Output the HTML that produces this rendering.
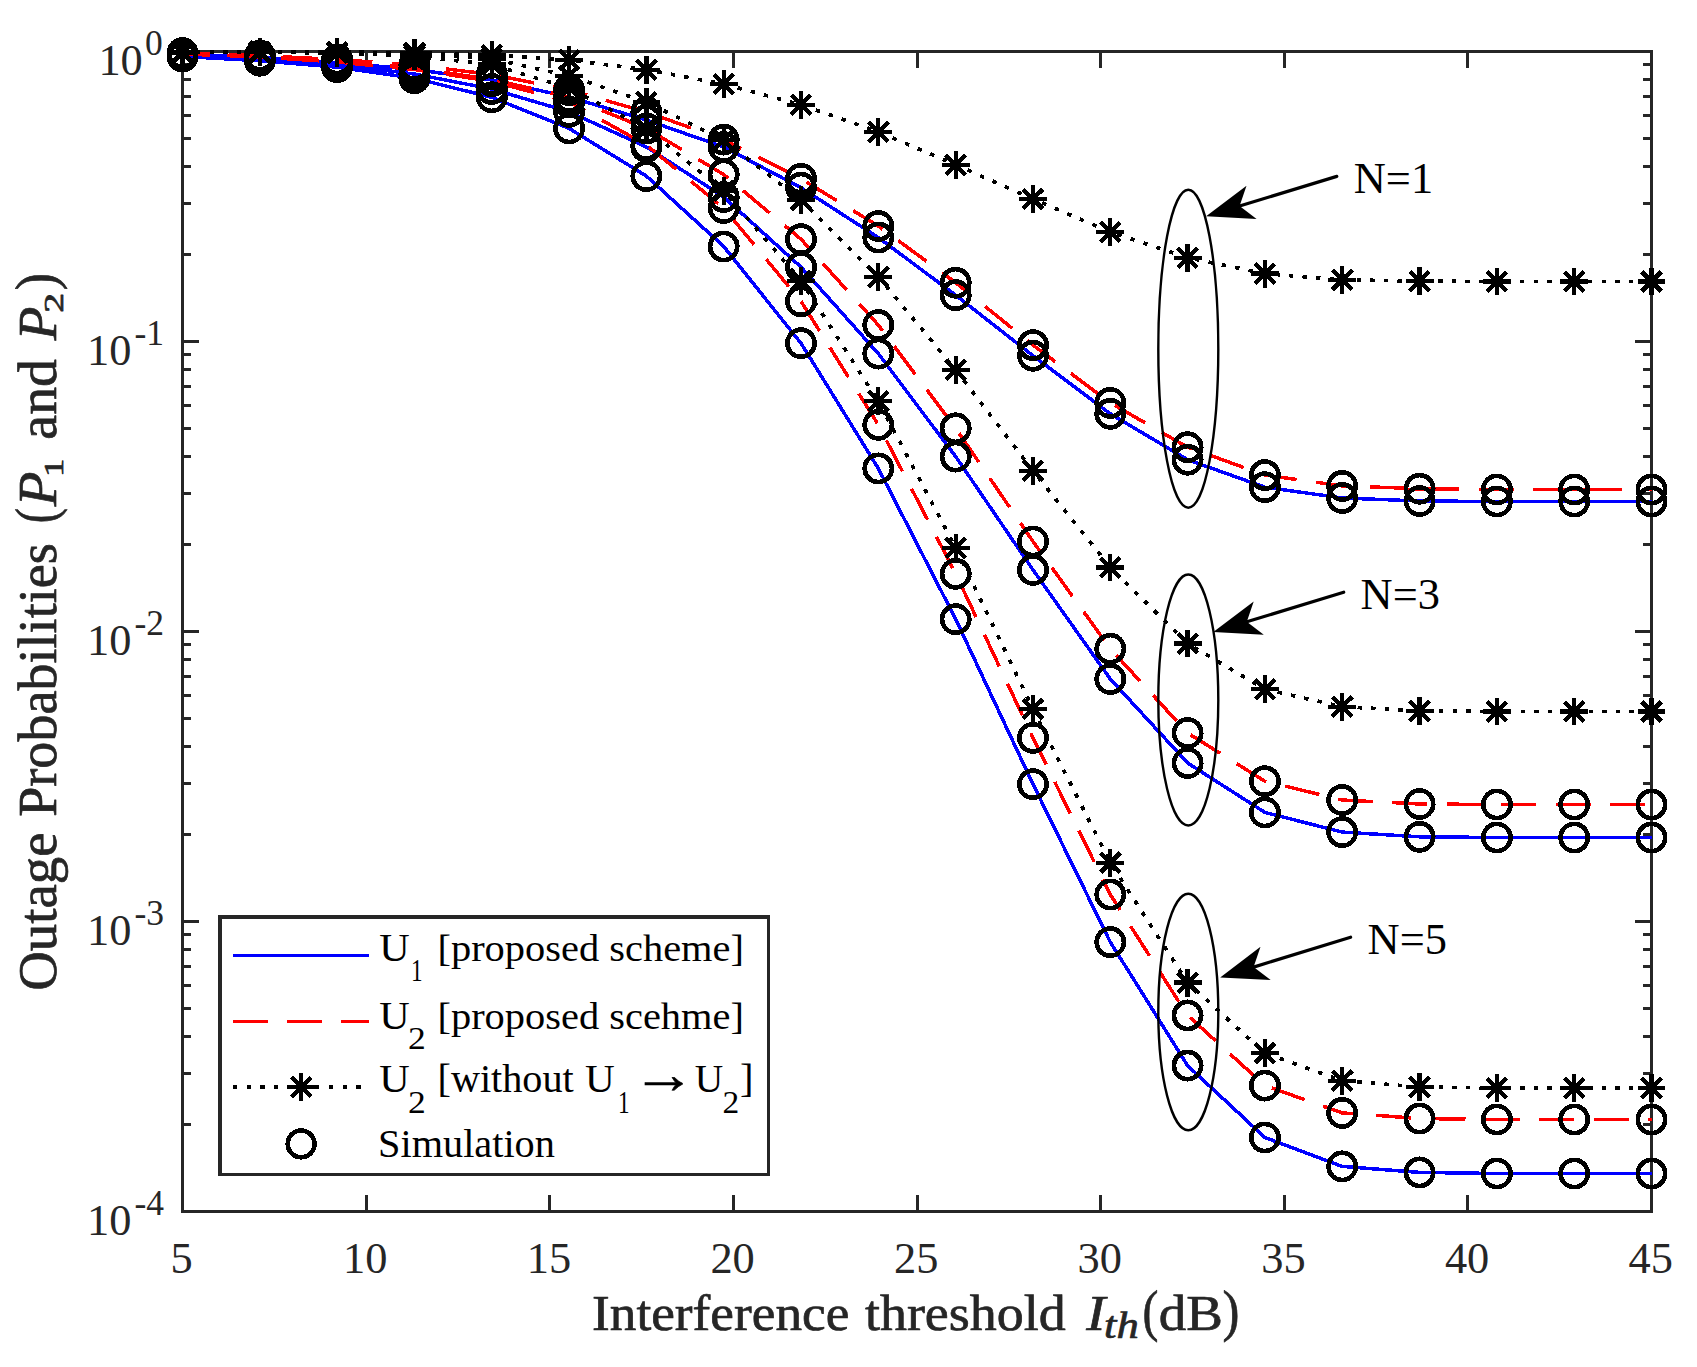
<!DOCTYPE html><html><head><meta charset="utf-8"><title>Outage Probabilities</title>
<style>html,body{margin:0;padding:0;background:#fff}svg{display:block}text{font-family:"Liberation Serif",serif}</style></head><body>
<svg width="1697" height="1367" viewBox="0 0 1697 1367">
<rect width="1697" height="1367" fill="#fff"/>
<g stroke="#262626" stroke-width="3" fill="none" stroke-linecap="butt" shape-rendering="crispEdges">
<rect x="182.5" y="51.5" width="1469.0" height="1160.0"/>
<path d="M366.1 1211.5V1195.1M366.1 51.5V67.9"/>
<path d="M549.8 1211.5V1195.1M549.8 51.5V67.9"/>
<path d="M733.4 1211.5V1195.1M733.4 51.5V67.9"/>
<path d="M917.0 1211.5V1195.1M917.0 51.5V67.9"/>
<path d="M1100.6 1211.5V1195.1M1100.6 51.5V67.9"/>
<path d="M1284.2 1211.5V1195.1M1284.2 51.5V67.9"/>
<path d="M1467.9 1211.5V1195.1M1467.9 51.5V67.9"/>
<path d="M182.5 254.2H190.8M1651.5 254.2H1643.2"/>
<path d="M182.5 203.1H190.8M1651.5 203.1H1643.2"/>
<path d="M182.5 166.9H190.8M1651.5 166.9H1643.2"/>
<path d="M182.5 138.8H190.8M1651.5 138.8H1643.2"/>
<path d="M182.5 115.8H190.8M1651.5 115.8H1643.2"/>
<path d="M182.5 96.4H190.8M1651.5 96.4H1643.2"/>
<path d="M182.5 79.6H190.8M1651.5 79.6H1643.2"/>
<path d="M182.5 64.8H190.8M1651.5 64.8H1643.2"/>
<path d="M182.5 341.5H198.9M1651.5 341.5H1635.1"/>
<path d="M182.5 544.2H190.8M1651.5 544.2H1643.2"/>
<path d="M182.5 493.1H190.8M1651.5 493.1H1643.2"/>
<path d="M182.5 456.9H190.8M1651.5 456.9H1643.2"/>
<path d="M182.5 428.8H190.8M1651.5 428.8H1643.2"/>
<path d="M182.5 405.8H190.8M1651.5 405.8H1643.2"/>
<path d="M182.5 386.4H190.8M1651.5 386.4H1643.2"/>
<path d="M182.5 369.6H190.8M1651.5 369.6H1643.2"/>
<path d="M182.5 354.8H190.8M1651.5 354.8H1643.2"/>
<path d="M182.5 631.5H198.9M1651.5 631.5H1635.1"/>
<path d="M182.5 834.2H190.8M1651.5 834.2H1643.2"/>
<path d="M182.5 783.1H190.8M1651.5 783.1H1643.2"/>
<path d="M182.5 746.9H190.8M1651.5 746.9H1643.2"/>
<path d="M182.5 718.8H190.8M1651.5 718.8H1643.2"/>
<path d="M182.5 695.8H190.8M1651.5 695.8H1643.2"/>
<path d="M182.5 676.4H190.8M1651.5 676.4H1643.2"/>
<path d="M182.5 659.6H190.8M1651.5 659.6H1643.2"/>
<path d="M182.5 644.8H190.8M1651.5 644.8H1643.2"/>
<path d="M182.5 921.5H198.9M1651.5 921.5H1635.1"/>
<path d="M182.5 1124.2H190.8M1651.5 1124.2H1643.2"/>
<path d="M182.5 1073.1H190.8M1651.5 1073.1H1643.2"/>
<path d="M182.5 1036.9H190.8M1651.5 1036.9H1643.2"/>
<path d="M182.5 1008.8H190.8M1651.5 1008.8H1643.2"/>
<path d="M182.5 985.8H190.8M1651.5 985.8H1643.2"/>
<path d="M182.5 966.4H190.8M1651.5 966.4H1643.2"/>
<path d="M182.5 949.6H190.8M1651.5 949.6H1643.2"/>
<path d="M182.5 934.8H190.8M1651.5 934.8H1643.2"/>
</g>
<g fill="#262626" font-size="44.4px">
<text x="181.7" y="1273.4" text-anchor="middle">5</text>
<text x="365.3" y="1273.4" text-anchor="middle">10</text>
<text x="549.0" y="1273.4" text-anchor="middle">15</text>
<text x="732.6" y="1273.4" text-anchor="middle">20</text>
<text x="916.2" y="1273.4" text-anchor="middle">25</text>
<text x="1099.8" y="1273.4" text-anchor="middle">30</text>
<text x="1283.5" y="1273.4" text-anchor="middle">35</text>
<text x="1467.1" y="1273.4" text-anchor="middle">40</text>
<text x="1650.7" y="1273.4" text-anchor="middle">45</text>
<text x="142.8" y="75.3" text-anchor="end">10</text><text x="145.1" y="54.9" font-size="35.5px">0</text>
<text x="131.4" y="365.3" text-anchor="end">10</text><text x="134.5" y="344.9" font-size="35.5px">-1</text>
<text x="131.4" y="655.3" text-anchor="end">10</text><text x="134.5" y="634.9" font-size="35.5px">-2</text>
<text x="131.4" y="945.3" text-anchor="end">10</text><text x="134.5" y="924.9" font-size="35.5px">-3</text>
<text x="131.4" y="1235.3" text-anchor="end">10</text><text x="134.5" y="1214.9" font-size="35.5px">-4</text>
</g>
<g shape-rendering="crispEdges">
<polyline points="182.5,54.5 259.8,57.5 337.1,62.5 414.4,69.5 491.8,80.0 569.1,97.0 646.4,120.0 723.7,147.0 801.0,187.7 878.3,237.5 955.7,295.2 1033.0,355.7 1110.3,413.8 1187.6,459.7 1264.9,487.2 1342.2,498.0 1419.6,501.0 1496.9,501.5 1574.2,501.5 1651.5,501.5" fill="none" stroke="#0000ff" stroke-width="3.5" stroke-linejoin="round"/>
<polyline points="182.5,53.0 259.8,55.7 337.1,59.5 414.4,65.0 491.8,74.5 569.1,90.0 646.4,112.0 723.7,139.6 801.0,178.8 878.3,226.0 955.7,282.7 1033.0,345.1 1110.3,402.9 1187.6,447.2 1264.9,475.1 1342.2,485.9 1419.6,488.7 1496.9,489.5 1574.2,489.5 1651.5,489.5" fill="none" stroke="#ff0000" stroke-width="3.5" stroke-dasharray="35 19.4" stroke-dashoffset="8" stroke-linejoin="round"/>
<polyline points="182.5,52.5 259.8,51.8 337.1,52.0 414.4,52.8 491.8,55.0 569.1,60.0 646.4,69.7 723.7,84.1 801.0,104.8 878.3,131.8 955.7,164.8 1033.0,199.0 1110.3,232.0 1187.6,257.7 1264.9,273.6 1342.2,279.8 1419.6,281.2 1496.9,281.5 1574.2,281.5 1651.5,281.5" fill="none" stroke="#000" stroke-width="3.7" stroke-dasharray="4.4 9.2" stroke-linejoin="round"/>
<polyline points="182.5,55.5 259.8,59.0 337.1,64.5 414.4,74.0 491.8,89.0 569.1,111.8 646.4,147.0 723.7,197.0 801.0,267.1 878.3,353.6 955.7,456.6 1033.0,569.9 1110.3,679.0 1187.6,763.0 1264.9,812.4 1342.2,832.1 1419.6,836.8 1496.9,837.5 1574.2,837.5 1651.5,837.5" fill="none" stroke="#0000ff" stroke-width="3.5" stroke-linejoin="round"/>
<polyline points="182.5,53.6 259.8,56.5 337.1,61.0 414.4,68.0 491.8,79.5 569.1,97.0 646.4,128.5 723.7,174.5 801.0,239.2 878.3,325.0 955.7,428.3 1033.0,541.5 1110.3,648.7 1187.6,733.0 1264.9,781.2 1342.2,800.0 1419.6,804.0 1496.9,804.5 1574.2,804.5 1651.5,804.5" fill="none" stroke="#ff0000" stroke-width="3.5" stroke-dasharray="35 19.4" stroke-dashoffset="10" stroke-linejoin="round"/>
<polyline points="182.5,52.5 259.8,52.0 337.1,52.5 414.4,54.0 491.8,58.8 569.1,75.8 646.4,102.1 723.7,140.0 801.0,200.0 878.3,276.8 955.7,369.9 1033.0,470.7 1110.3,567.4 1187.6,643.5 1264.9,689.3 1342.2,706.7 1419.6,710.9 1496.9,711.5 1574.2,711.5 1651.5,711.5" fill="none" stroke="#000" stroke-width="3.7" stroke-dasharray="4.4 9.2" stroke-linejoin="round"/>
<polyline points="182.5,56.5 259.8,60.7 337.1,67.2 414.4,78.2 491.8,97.3 569.1,128.4 646.4,176.1 723.7,246.5 801.0,343.2 878.3,468.4 955.7,619.2 1033.0,784.2 1110.3,942.1 1187.6,1065.6 1264.9,1137.5 1342.2,1166.4 1419.6,1172.4 1496.9,1173.5 1574.2,1173.5 1651.5,1173.5" fill="none" stroke="#0000ff" stroke-width="3.5" stroke-linejoin="round"/>
<polyline points="182.5,54.0 259.8,57.0 337.1,62.0 414.4,69.5 491.8,81.3 569.1,102.0 646.4,145.0 723.7,208.0 801.0,301.3 878.3,424.8 955.7,573.8 1033.0,737.8 1110.3,894.5 1187.6,1015.4 1264.9,1085.6 1342.2,1112.9 1419.6,1118.5 1496.9,1119.5 1574.2,1119.5 1651.5,1119.5" fill="none" stroke="#ff0000" stroke-width="3.5" stroke-dasharray="35 19.4" stroke-dashoffset="7" stroke-linejoin="round"/>
<polyline points="182.5,52.5 259.8,52.2 337.1,53.0 414.4,56.0 491.8,64.6 569.1,88.0 646.4,128.6 723.7,190.6 801.0,280.7 878.3,401.2 955.7,547.8 1033.0,709.0 1110.3,862.7 1187.6,982.6 1264.9,1053.1 1342.2,1080.7 1419.6,1087.0 1496.9,1088.0 1574.2,1088.0 1651.5,1088.0" fill="none" stroke="#000" stroke-width="3.7" stroke-dasharray="4.4 9.2" stroke-linejoin="round"/>
<path d="M1406 489.5H1427M1570 489.5H1591" stroke="#ff0000" stroke-width="3.5"/>
<path d="M168.6 52.5H196.4M182.5 38.6V66.4M172.7 42.7L192.3 62.3M172.7 62.3L192.3 42.7M245.9 51.8H273.7M259.8 37.9V65.7M250.0 42.0L269.6 61.6M250.0 61.6L269.6 42.0M323.2 52.0H351.0M337.1 38.1V65.9M327.3 42.2L347.0 61.8M327.3 61.8L347.0 42.2M400.5 52.8H428.3M414.4 38.9V66.7M404.6 43.0L424.3 62.6M404.6 62.6L424.3 43.0M477.9 55.0H505.7M491.8 41.1V68.9M481.9 45.2L501.6 64.8M481.9 64.8L501.6 45.2M555.2 60.0H583.0M569.1 46.1V73.9M559.3 50.2L578.9 69.8M559.3 69.8L578.9 50.2M632.5 69.7H660.3M646.4 55.8V83.6M636.6 59.9L656.2 79.5M636.6 79.5L656.2 59.9M709.8 84.1H737.6M723.7 70.2V98.0M713.9 74.3L733.5 93.9M713.9 93.9L733.5 74.3M787.1 104.8H814.9M801.0 90.9V118.7M791.2 95.0L810.9 114.6M791.2 114.6L810.9 95.0M864.4 131.8H892.2M878.3 117.9V145.7M868.5 122.0L888.2 141.6M868.5 141.6L888.2 122.0M941.8 164.8H969.6M955.7 150.9V178.7M945.8 155.0L965.5 174.6M945.8 174.6L965.5 155.0M1019.1 199.0H1046.9M1033.0 185.1V212.9M1023.1 189.2L1042.8 208.8M1023.1 208.8L1042.8 189.2M1096.4 232.0H1124.2M1110.3 218.1V245.9M1100.5 222.2L1120.1 241.8M1100.5 241.8L1120.1 222.2M1173.7 257.7H1201.5M1187.6 243.8V271.6M1177.8 247.9L1197.4 267.5M1177.8 267.5L1197.4 247.9M1251.0 273.6H1278.8M1264.9 259.7V287.5M1255.1 263.8L1274.7 283.4M1255.1 283.4L1274.7 263.8M1328.3 279.8H1356.1M1342.2 265.9V293.7M1332.4 270.0L1352.1 289.6M1332.4 289.6L1352.1 270.0M1405.7 281.2H1433.5M1419.6 267.3V295.1M1409.7 271.4L1429.4 291.0M1409.7 291.0L1429.4 271.4M1483.0 281.5H1510.8M1496.9 267.6V295.4M1487.0 271.7L1506.7 291.3M1487.0 291.3L1506.7 271.7M1560.3 281.5H1588.1M1574.2 267.6V295.4M1564.4 271.7L1584.0 291.3M1564.4 291.3L1584.0 271.7M1637.6 281.5H1665.4M1651.5 267.6V295.4M1641.7 271.7L1661.3 291.3M1641.7 291.3L1661.3 271.7" stroke="#000" stroke-width="4.3" fill="none"/>
<g fill="none" stroke="#000" stroke-width="4.7">
<circle cx="182.5" cy="54.5" r="13.6"/>
<circle cx="259.8" cy="57.5" r="13.6"/>
<circle cx="337.1" cy="62.5" r="13.6"/>
<circle cx="414.4" cy="69.5" r="13.6"/>
<circle cx="491.8" cy="80.0" r="13.6"/>
<circle cx="569.1" cy="97.0" r="13.6"/>
<circle cx="646.4" cy="120.0" r="13.6"/>
<circle cx="723.7" cy="147.0" r="13.6"/>
<circle cx="801.0" cy="187.7" r="13.6"/>
<circle cx="878.3" cy="237.5" r="13.6"/>
<circle cx="955.7" cy="295.2" r="13.6"/>
<circle cx="1033.0" cy="355.7" r="13.6"/>
<circle cx="1110.3" cy="413.8" r="13.6"/>
<circle cx="1187.6" cy="459.7" r="13.6"/>
<circle cx="1264.9" cy="487.2" r="13.6"/>
<circle cx="1342.2" cy="498.0" r="13.6"/>
<circle cx="1419.6" cy="501.0" r="13.6"/>
<circle cx="1496.9" cy="501.5" r="13.6"/>
<circle cx="1574.2" cy="501.5" r="13.6"/>
<circle cx="1651.5" cy="501.5" r="13.6"/>
<circle cx="182.5" cy="53.0" r="13.6"/>
<circle cx="259.8" cy="55.7" r="13.6"/>
<circle cx="337.1" cy="59.5" r="13.6"/>
<circle cx="414.4" cy="65.0" r="13.6"/>
<circle cx="491.8" cy="74.5" r="13.6"/>
<circle cx="569.1" cy="90.0" r="13.6"/>
<circle cx="646.4" cy="112.0" r="13.6"/>
<circle cx="723.7" cy="139.6" r="13.6"/>
<circle cx="801.0" cy="178.8" r="13.6"/>
<circle cx="878.3" cy="226.0" r="13.6"/>
<circle cx="955.7" cy="282.7" r="13.6"/>
<circle cx="1033.0" cy="345.1" r="13.6"/>
<circle cx="1110.3" cy="402.9" r="13.6"/>
<circle cx="1187.6" cy="447.2" r="13.6"/>
<circle cx="1264.9" cy="475.1" r="13.6"/>
<circle cx="1342.2" cy="485.9" r="13.6"/>
<circle cx="1419.6" cy="488.7" r="13.6"/>
<circle cx="1496.9" cy="489.5" r="13.6"/>
<circle cx="1574.2" cy="489.5" r="13.6"/>
<circle cx="1651.5" cy="489.5" r="13.6"/>
</g>
<path d="M168.6 52.5H196.4M182.5 38.6V66.4M172.7 42.7L192.3 62.3M172.7 62.3L192.3 42.7M245.9 52.0H273.7M259.8 38.1V65.9M250.0 42.2L269.6 61.8M250.0 61.8L269.6 42.2M323.2 52.5H351.0M337.1 38.6V66.4M327.3 42.7L347.0 62.3M327.3 62.3L347.0 42.7M400.5 54.0H428.3M414.4 40.1V67.9M404.6 44.2L424.3 63.8M404.6 63.8L424.3 44.2M477.9 58.8H505.7M491.8 44.9V72.7M481.9 49.0L501.6 68.6M481.9 68.6L501.6 49.0M555.2 75.8H583.0M569.1 61.9V89.7M559.3 66.0L578.9 85.6M559.3 85.6L578.9 66.0M632.5 102.1H660.3M646.4 88.2V116.0M636.6 92.3L656.2 111.9M636.6 111.9L656.2 92.3M709.8 140.0H737.6M723.7 126.1V153.9M713.9 130.2L733.5 149.8M713.9 149.8L733.5 130.2M787.1 200.0H814.9M801.0 186.1V213.9M791.2 190.2L810.9 209.8M791.2 209.8L810.9 190.2M864.4 276.8H892.2M878.3 262.9V290.7M868.5 267.0L888.2 286.6M868.5 286.6L888.2 267.0M941.8 369.9H969.6M955.7 356.0V383.8M945.8 360.1L965.5 379.7M945.8 379.7L965.5 360.1M1019.1 470.7H1046.9M1033.0 456.8V484.6M1023.1 460.9L1042.8 480.5M1023.1 480.5L1042.8 460.9M1096.4 567.4H1124.2M1110.3 553.5V581.3M1100.5 557.6L1120.1 577.2M1100.5 577.2L1120.1 557.6M1173.7 643.5H1201.5M1187.6 629.6V657.4M1177.8 633.7L1197.4 653.3M1177.8 653.3L1197.4 633.7M1251.0 689.3H1278.8M1264.9 675.4V703.2M1255.1 679.5L1274.7 699.1M1255.1 699.1L1274.7 679.5M1328.3 706.7H1356.1M1342.2 692.8V720.6M1332.4 696.9L1352.1 716.5M1332.4 716.5L1352.1 696.9M1405.7 710.9H1433.5M1419.6 697.0V724.8M1409.7 701.1L1429.4 720.7M1409.7 720.7L1429.4 701.1M1483.0 711.5H1510.8M1496.9 697.6V725.4M1487.0 701.7L1506.7 721.3M1487.0 721.3L1506.7 701.7M1560.3 711.5H1588.1M1574.2 697.6V725.4M1564.4 701.7L1584.0 721.3M1564.4 721.3L1584.0 701.7M1637.6 711.5H1665.4M1651.5 697.6V725.4M1641.7 701.7L1661.3 721.3M1641.7 721.3L1661.3 701.7" stroke="#000" stroke-width="4.3" fill="none"/>
<g fill="none" stroke="#000" stroke-width="4.7">
<circle cx="182.5" cy="55.5" r="13.6"/>
<circle cx="259.8" cy="59.0" r="13.6"/>
<circle cx="337.1" cy="64.5" r="13.6"/>
<circle cx="414.4" cy="74.0" r="13.6"/>
<circle cx="491.8" cy="89.0" r="13.6"/>
<circle cx="569.1" cy="111.8" r="13.6"/>
<circle cx="646.4" cy="147.0" r="13.6"/>
<circle cx="723.7" cy="197.0" r="13.6"/>
<circle cx="801.0" cy="267.1" r="13.6"/>
<circle cx="878.3" cy="353.6" r="13.6"/>
<circle cx="955.7" cy="456.6" r="13.6"/>
<circle cx="1033.0" cy="569.9" r="13.6"/>
<circle cx="1110.3" cy="679.0" r="13.6"/>
<circle cx="1187.6" cy="763.0" r="13.6"/>
<circle cx="1264.9" cy="812.4" r="13.6"/>
<circle cx="1342.2" cy="832.1" r="13.6"/>
<circle cx="1419.6" cy="836.8" r="13.6"/>
<circle cx="1496.9" cy="837.5" r="13.6"/>
<circle cx="1574.2" cy="837.5" r="13.6"/>
<circle cx="1651.5" cy="837.5" r="13.6"/>
<circle cx="182.5" cy="53.6" r="13.6"/>
<circle cx="259.8" cy="56.5" r="13.6"/>
<circle cx="337.1" cy="61.0" r="13.6"/>
<circle cx="414.4" cy="68.0" r="13.6"/>
<circle cx="491.8" cy="79.5" r="13.6"/>
<circle cx="569.1" cy="97.0" r="13.6"/>
<circle cx="646.4" cy="128.5" r="13.6"/>
<circle cx="723.7" cy="174.5" r="13.6"/>
<circle cx="801.0" cy="239.2" r="13.6"/>
<circle cx="878.3" cy="325.0" r="13.6"/>
<circle cx="955.7" cy="428.3" r="13.6"/>
<circle cx="1033.0" cy="541.5" r="13.6"/>
<circle cx="1110.3" cy="648.7" r="13.6"/>
<circle cx="1187.6" cy="733.0" r="13.6"/>
<circle cx="1264.9" cy="781.2" r="13.6"/>
<circle cx="1342.2" cy="800.0" r="13.6"/>
<circle cx="1419.6" cy="804.0" r="13.6"/>
<circle cx="1496.9" cy="804.5" r="13.6"/>
<circle cx="1574.2" cy="804.5" r="13.6"/>
<circle cx="1651.5" cy="804.5" r="13.6"/>
</g>
<path d="M168.6 52.5H196.4M182.5 38.6V66.4M172.7 42.7L192.3 62.3M172.7 62.3L192.3 42.7M245.9 52.2H273.7M259.8 38.3V66.1M250.0 42.4L269.6 62.0M250.0 62.0L269.6 42.4M323.2 53.0H351.0M337.1 39.1V66.9M327.3 43.2L347.0 62.8M327.3 62.8L347.0 43.2M400.5 56.0H428.3M414.4 42.1V69.9M404.6 46.2L424.3 65.8M404.6 65.8L424.3 46.2M477.9 64.6H505.7M491.8 50.7V78.5M481.9 54.8L501.6 74.4M481.9 74.4L501.6 54.8M555.2 88.0H583.0M569.1 74.1V101.9M559.3 78.2L578.9 97.8M559.3 97.8L578.9 78.2M632.5 128.6H660.3M646.4 114.7V142.5M636.6 118.8L656.2 138.4M636.6 138.4L656.2 118.8M709.8 190.6H737.6M723.7 176.7V204.5M713.9 180.8L733.5 200.4M713.9 200.4L733.5 180.8M787.1 280.7H814.9M801.0 266.8V294.6M791.2 270.9L810.9 290.5M791.2 290.5L810.9 270.9M864.4 401.2H892.2M878.3 387.3V415.1M868.5 391.4L888.2 411.0M868.5 411.0L888.2 391.4M941.8 547.8H969.6M955.7 533.9V561.7M945.8 538.0L965.5 557.6M945.8 557.6L965.5 538.0M1019.1 709.0H1046.9M1033.0 695.1V722.9M1023.1 699.2L1042.8 718.8M1023.1 718.8L1042.8 699.2M1096.4 862.7H1124.2M1110.3 848.8V876.6M1100.5 852.9L1120.1 872.5M1100.5 872.5L1120.1 852.9M1173.7 982.6H1201.5M1187.6 968.7V996.5M1177.8 972.8L1197.4 992.4M1177.8 992.4L1197.4 972.8M1251.0 1053.1H1278.8M1264.9 1039.2V1067.0M1255.1 1043.3L1274.7 1062.9M1255.1 1062.9L1274.7 1043.3M1328.3 1080.7H1356.1M1342.2 1066.8V1094.6M1332.4 1070.9L1352.1 1090.5M1332.4 1090.5L1352.1 1070.9M1405.7 1087.0H1433.5M1419.6 1073.1V1100.9M1409.7 1077.2L1429.4 1096.8M1409.7 1096.8L1429.4 1077.2M1483.0 1088.0H1510.8M1496.9 1074.1V1101.9M1487.0 1078.2L1506.7 1097.8M1487.0 1097.8L1506.7 1078.2M1560.3 1088.0H1588.1M1574.2 1074.1V1101.9M1564.4 1078.2L1584.0 1097.8M1564.4 1097.8L1584.0 1078.2M1637.6 1088.0H1665.4M1651.5 1074.1V1101.9M1641.7 1078.2L1661.3 1097.8M1641.7 1097.8L1661.3 1078.2" stroke="#000" stroke-width="4.3" fill="none"/>
<g fill="none" stroke="#000" stroke-width="4.7">
<circle cx="182.5" cy="56.5" r="13.6"/>
<circle cx="259.8" cy="60.7" r="13.6"/>
<circle cx="337.1" cy="67.2" r="13.6"/>
<circle cx="414.4" cy="78.2" r="13.6"/>
<circle cx="491.8" cy="97.3" r="13.6"/>
<circle cx="569.1" cy="128.4" r="13.6"/>
<circle cx="646.4" cy="176.1" r="13.6"/>
<circle cx="723.7" cy="246.5" r="13.6"/>
<circle cx="801.0" cy="343.2" r="13.6"/>
<circle cx="878.3" cy="468.4" r="13.6"/>
<circle cx="955.7" cy="619.2" r="13.6"/>
<circle cx="1033.0" cy="784.2" r="13.6"/>
<circle cx="1110.3" cy="942.1" r="13.6"/>
<circle cx="1187.6" cy="1065.6" r="13.6"/>
<circle cx="1264.9" cy="1137.5" r="13.6"/>
<circle cx="1342.2" cy="1166.4" r="13.6"/>
<circle cx="1419.6" cy="1172.4" r="13.6"/>
<circle cx="1496.9" cy="1173.5" r="13.6"/>
<circle cx="1574.2" cy="1173.5" r="13.6"/>
<circle cx="1651.5" cy="1173.5" r="13.6"/>
<circle cx="182.5" cy="54.0" r="13.6"/>
<circle cx="259.8" cy="57.0" r="13.6"/>
<circle cx="337.1" cy="62.0" r="13.6"/>
<circle cx="414.4" cy="69.5" r="13.6"/>
<circle cx="491.8" cy="81.3" r="13.6"/>
<circle cx="569.1" cy="102.0" r="13.6"/>
<circle cx="646.4" cy="145.0" r="13.6"/>
<circle cx="723.7" cy="208.0" r="13.6"/>
<circle cx="801.0" cy="301.3" r="13.6"/>
<circle cx="878.3" cy="424.8" r="13.6"/>
<circle cx="955.7" cy="573.8" r="13.6"/>
<circle cx="1033.0" cy="737.8" r="13.6"/>
<circle cx="1110.3" cy="894.5" r="13.6"/>
<circle cx="1187.6" cy="1015.4" r="13.6"/>
<circle cx="1264.9" cy="1085.6" r="13.6"/>
<circle cx="1342.2" cy="1112.9" r="13.6"/>
<circle cx="1419.6" cy="1118.5" r="13.6"/>
<circle cx="1496.9" cy="1119.5" r="13.6"/>
<circle cx="1574.2" cy="1119.5" r="13.6"/>
<circle cx="1651.5" cy="1119.5" r="13.6"/>
</g>
</g>
<g fill="none" stroke="#000" stroke-width="2.4">
<ellipse cx="1188.3" cy="348.7" rx="30" ry="159"/>
<ellipse cx="1188.3" cy="700" rx="30" ry="125.5"/>
<ellipse cx="1188.3" cy="1012" rx="30" ry="118.3"/>
</g>
<path d="M1336.8 176.4L1239.6 206.0" stroke="#000" stroke-width="3.2" stroke-linecap="round"/>
<path d="M1206.1 216.2L1246.5 185.7L1239.6 206.0L1256.6 219.0Z" fill="#000"/>
<path d="M1343.7 592.2L1246.8 621.8" stroke="#000" stroke-width="3.2" stroke-linecap="round"/>
<path d="M1213.3 632.0L1253.7 601.5L1246.8 621.8L1263.8 634.8Z" fill="#000"/>
<path d="M1350.6 937.2L1253.6 967.1" stroke="#000" stroke-width="3.2" stroke-linecap="round"/>
<path d="M1220.2 977.4L1260.5 946.8L1253.6 967.1L1270.7 980.0Z" fill="#000"/>
<g fill="#000" font-size="44.4px">
<text x="1353.8" y="193.4">N=1</text>
<text x="1360.6" y="609">N=3</text>
<text x="1367.6" y="954.4">N=5</text>
</g>
<rect x="218" y="915" width="552" height="261" fill="#262626" shape-rendering="crispEdges"/><rect x="222" y="919" width="545" height="254" fill="#fff" shape-rendering="crispEdges"/>
<g shape-rendering="crispEdges">
<path d="M233 955.5H369" stroke="#0000ff" stroke-width="3"/>
<path d="M233 1021.5H369" stroke="#ff0000" stroke-width="3" stroke-dasharray="35 19"/>
<path d="M233 1087H369" stroke="#000" stroke-width="4" stroke-dasharray="4.2 9.5"/>
<path d="M287.2 1087.0H315.0M301.1 1073.1V1100.9M291.3 1077.2L310.9 1096.8M291.3 1096.8L310.9 1077.2" stroke="#000" stroke-width="4.2" fill="none"/>
<circle cx="301.1" cy="1143.9" r="13.4" fill="none" stroke="#000" stroke-width="4.6"/>
</g>
<g fill="#000">
<text transform="translate(379.24,960.5) scale(1.0816,1)" font-size="39px">U</text>
<text transform="translate(379.24,1028.9) scale(1.0816,1)" font-size="39px">U</text>
<text transform="translate(379.24,1092.3) scale(1.0816,1)" font-size="39px">U</text>
<text transform="translate(410.99,981.0) scale(0.7250,1)" font-size="32px">1</text>
<text transform="translate(408.09,1049.2) scale(1.1111,1)" font-size="32px">2</text>
<text transform="translate(408.09,1112.6) scale(1.1111,1)" font-size="32px">2</text>
<text transform="translate(437.47,960.5) scale(1.0366,1)" font-size="39px">[proposed scheme]</text>
<text transform="translate(437.47,1028.9) scale(1.0366,1)" font-size="39px">[proposed scehme]</text>
<text transform="translate(437.49,1092.3) scale(1.0312,1)" font-size="39px">[without</text>
<text transform="translate(585.06,1092.3) scale(1.0555,1)" font-size="39px">U</text>
<text transform="translate(617.99,1112.6) scale(0.7250,1)" font-size="32px">1</text>
<text transform="translate(631.70,1093.0) scale(1.1338,1)" font-size="56px" stroke="#000" stroke-width="0.5">→</text>
<text transform="translate(694.68,1092.3) scale(1.0107,1)" font-size="39px">U</text>
<text transform="translate(722.56,1112.6) scale(1.0444,1)" font-size="32px">2</text>
<text transform="translate(739.93,1092.3) scale(1.0393,1)" font-size="39px">]</text>
<text transform="translate(378.08,1156.7) scale(1.0335,1)" font-size="39px">Simulation</text>
</g>
<g fill="#262626" stroke="#262626" stroke-width="0.7" stroke-linejoin="round">
<text transform="translate(592.03,1329.6) scale(1.0347,1)" font-size="51.5px">Interference</text>
<text transform="translate(864.90,1329.6) scale(1.0482,1)" font-size="51.5px">threshold</text>
<text transform="translate(1086.30,1329.6) scale(1.1135,1)" font-size="51.5px" font-style="italic">I</text>
<text transform="translate(1104.11,1337.5) scale(1.2053,1)" font-size="37px" font-style="italic">th</text>
<text transform="translate(1142.51,1329.5) scale(0.8388,1)" font-size="56.8px">(</text>
<text transform="translate(1158.68,1329.6) scale(1.0670,1)" font-size="51.5px">dB</text>
<text transform="translate(1222.51,1329.5) scale(0.8948,1)" font-size="56.8px">)</text>
<text transform="translate(55.5,990.81) rotate(-90) scale(1.0060,1)" font-size="54.5px">Outage</text>
<text transform="translate(55.5,816.75) rotate(-90) scale(0.9933,1)" font-size="54.5px">Probabilities</text>
<text transform="translate(55.3,523.32) rotate(-90) scale(0.8013,1)" font-size="56.8px">(</text>
<text transform="translate(55.5,506.21) rotate(-90) scale(1.0418,1)" font-size="54.5px" font-style="italic">P</text>
<text transform="translate(63.2,476.88) rotate(-90) scale(1.3143,1)" font-size="28px">1</text>
<text transform="translate(55.5,439.65) rotate(-90) scale(1.0262,1)" font-size="54.5px">and</text>
<text transform="translate(55.5,340.24) rotate(-90) scale(1.0117,1)" font-size="54.5px" font-style="italic">P</text>
<text transform="translate(63.2,312.64) rotate(-90) scale(1.4222,1)" font-size="28px">2</text>
<text transform="translate(55.3,290.32) rotate(-90) scale(0.9147,1)" font-size="56.8px">)</text>
</g>
</svg></body></html>
